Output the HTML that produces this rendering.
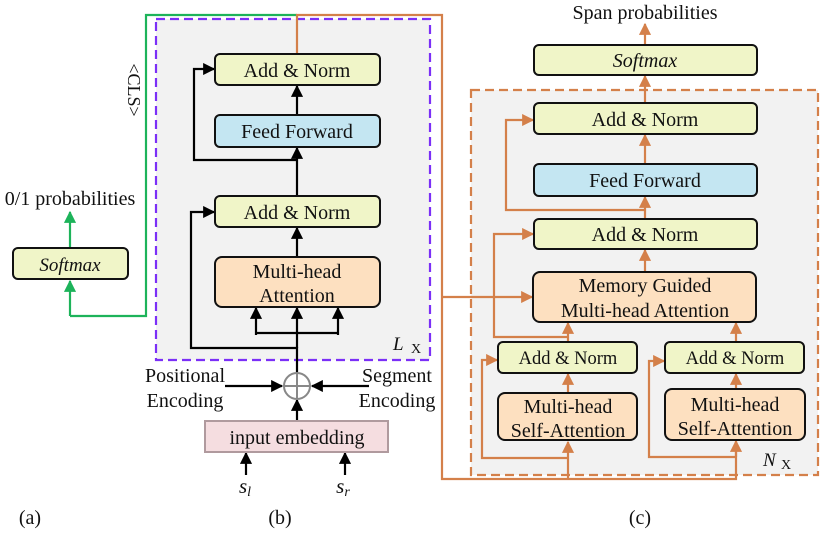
<!DOCTYPE html>
<html><head><meta charset="utf-8"><style>
body{margin:0;background:#fff}
svg{display:block}
text{font-family:"Liberation Serif",serif;fill:#111}
</style></head><body>
<svg width="822" height="533" viewBox="0 0 822 533" xmlns="http://www.w3.org/2000/svg">
<defs>
<marker id="ak" viewBox="0 0 10 10" refX="9" refY="5" markerWidth="5.5" markerHeight="5.5" orient="auto"><path d="M0,0L10,5L0,10z" fill="#000"/></marker>
<marker id="ao" viewBox="0 0 10 10" refX="9" refY="5" markerWidth="5.5" markerHeight="5.5" orient="auto"><path d="M0,0L10,5L0,10z" fill="#d4804a"/></marker>
<marker id="ag" viewBox="0 0 10 10" refX="9" refY="5" markerWidth="5.5" markerHeight="5.5" orient="auto"><path d="M0,0L10,5L0,10z" fill="#1db35a"/></marker>
</defs>
<rect x="156" y="19" width="274" height="341" fill="#f2f2f2" stroke="#7b2ff7" stroke-width="2.2" stroke-dasharray="9,5"/>
<rect x="471" y="90" width="347" height="385" fill="#f2f2f2" stroke="#d4804a" stroke-width="2.2" stroke-dasharray="9,5"/>

<polyline points="70,316 146,316 146,15 297,15" fill="none" stroke="#1db35a" stroke-width="2.2"/>
<line x1="70" y1="316" x2="70" y2="281" stroke="#1db35a" stroke-width="2.2" marker-end="url(#ag)"/>
<line x1="70" y1="248" x2="70" y2="212" stroke="#1db35a" stroke-width="2.2" marker-end="url(#ag)"/>
<rect x="13" y="248" width="115" height="31" rx="5" fill="#f0f5c8" stroke="#111" stroke-width="2"/>
<text x="70" y="271" font-size="19" font-style="italic" text-anchor="middle">Softmax</text>
<text x="70" y="205" font-size="20" text-anchor="middle">0/1 probabilities</text>
<text transform="translate(128,90) rotate(90)" font-size="18" text-anchor="middle">&lt;CLS&gt;</text>

<polyline points="297,54 297,15 442,15 442,479 736,479 736,442" fill="none" stroke="#d4804a" stroke-width="2.2"/>
<line x1="442" y1="297" x2="532" y2="297" stroke="#d4804a" stroke-width="2.2" marker-end="url(#ao)"/>
<line x1="568" y1="479" x2="568" y2="442" stroke="#d4804a" stroke-width="2.2" marker-end="url(#ao)"/>
<polyline points="568,458 482,458 482,360 497,360" fill="none" stroke="#d4804a" stroke-width="2.2" marker-end="url(#ao)"/>
<polyline points="736,457 649,457 649,361 664,361" fill="none" stroke="#d4804a" stroke-width="2.2" marker-end="url(#ao)"/>
<polyline points="736,457 736,441" fill="none" stroke="#d4804a" stroke-width="2.2" marker-end="url(#ao)"/>
<line x1="568" y1="393" x2="568" y2="374" stroke="#d4804a" stroke-width="2.2" marker-end="url(#ao)"/>
<line x1="736" y1="389" x2="736" y2="374" stroke="#d4804a" stroke-width="2.2" marker-end="url(#ao)"/>
<line x1="568" y1="342" x2="568" y2="323" stroke="#d4804a" stroke-width="2.2" marker-end="url(#ao)"/>
<line x1="736" y1="342" x2="736" y2="323" stroke="#d4804a" stroke-width="2.2" marker-end="url(#ao)"/>
<polyline points="568,337 494,337 494,234 533,234" fill="none" stroke="#d4804a" stroke-width="2.2" marker-end="url(#ao)"/>
<line x1="645" y1="272" x2="645" y2="250" stroke="#d4804a" stroke-width="2.2" marker-end="url(#ao)"/>
<line x1="645" y1="219" x2="645" y2="197" stroke="#d4804a" stroke-width="2.2" marker-end="url(#ao)"/>
<polyline points="645,210 506,210 506,120 533,120" fill="none" stroke="#d4804a" stroke-width="2.2" marker-end="url(#ao)"/>
<line x1="645" y1="164" x2="645" y2="135" stroke="#d4804a" stroke-width="2.2" marker-end="url(#ao)"/>
<line x1="645" y1="103" x2="645" y2="76" stroke="#d4804a" stroke-width="2.2" marker-end="url(#ao)"/>
<line x1="645" y1="45" x2="645" y2="24" stroke="#d4804a" stroke-width="2.2" marker-end="url(#ao)"/>

<g stroke="#111" stroke-width="2">
<rect x="534" y="45" width="223" height="30" rx="5" fill="#f0f5c8"/>
<rect x="534" y="103" width="223" height="31" rx="5" fill="#f0f5c8"/>
<rect x="534" y="164" width="223" height="32" rx="5" fill="#c4e6f2"/>
<rect x="534" y="219" width="223" height="30" rx="5" fill="#f0f5c8"/>
<rect x="533" y="272" width="223" height="50" rx="7" fill="#fde0c0"/>
<rect x="498" y="342" width="139" height="31" rx="5" fill="#f0f5c8"/>
<rect x="665" y="342" width="139" height="31" rx="5" fill="#f0f5c8"/>
<rect x="498" y="393" width="139" height="47" rx="7" fill="#fde0c0"/>
<rect x="665" y="389" width="140" height="51" rx="7" fill="#fde0c0"/>
</g>
<g font-size="20" text-anchor="middle">
<text x="645" y="19">Span probabilities</text>
<text x="645" y="67" font-style="italic">Softmax</text>
<text x="645" y="126">Add &amp; Norm</text>
<text x="645" y="187">Feed Forward</text>
<text x="645" y="241">Add &amp; Norm</text>
<text x="645" y="292">Memory Guided</text>
<text x="645" y="317">Multi-head Attention</text>
<text x="568" y="364" font-size="18.5">Add &amp; Norm</text>
<text x="735" y="364" font-size="18.5">Add &amp; Norm</text>
<text x="568" y="413">Multi-head</text>
<text x="568" y="437">Self-Attention</text>
<text x="735" y="411">Multi-head</text>
<text x="735" y="435">Self-Attention</text>
</g>
<text x="763" y="466" font-size="19" font-style="italic">N</text><text x="781" y="469" font-size="14">X</text>

<g stroke="#000" stroke-width="2.2" fill="none">
<line x1="297" y1="115" x2="297" y2="86" marker-end="url(#ak)"/>
<line x1="297" y1="196" x2="297" y2="148" marker-end="url(#ak)"/>
<polyline points="297,160 194,160 194,69 214,69" marker-end="url(#ak)"/>
<line x1="297" y1="257" x2="297" y2="228" marker-end="url(#ak)"/>
<polyline points="297,373 297,348 191,348 191,212 214,212" marker-end="url(#ak)"/>
<line x1="297" y1="348" x2="297" y2="308" marker-end="url(#ak)"/>
<polyline points="256,335 256,308" marker-end="url(#ak)"/>
<polyline points="338,335 338,308" marker-end="url(#ak)"/>
<line x1="256" y1="333" x2="338" y2="333"/>
<line x1="225" y1="386" x2="282" y2="386" marker-end="url(#ak)"/>
<line x1="369" y1="386" x2="312" y2="386" marker-end="url(#ak)"/>
<line x1="297" y1="420" x2="297" y2="400" marker-end="url(#ak)"/>
<line x1="246" y1="475" x2="246" y2="453" marker-end="url(#ak)"/>
<line x1="345" y1="475" x2="345" y2="453" marker-end="url(#ak)"/>
</g>
<circle cx="297" cy="386" r="13" fill="#fff" stroke="#888" stroke-width="2"/>
<line x1="284" y1="386" x2="310" y2="386" stroke="#888" stroke-width="2"/>
<line x1="297" y1="373" x2="297" y2="399" stroke="#888" stroke-width="2"/>
<g stroke="#111" stroke-width="2">
<rect x="215" y="54" width="165" height="31" rx="5" fill="#f0f5c8"/>
<rect x="215" y="115" width="165" height="32" rx="5" fill="#c4e6f2"/>
<rect x="215" y="196" width="165" height="31" rx="5" fill="#f0f5c8"/>
<rect x="215" y="257" width="165" height="50" rx="7" fill="#fde0c0"/>
</g>
<rect x="205" y="421" width="183" height="31" fill="#f5dde0" stroke="#b09a9e" stroke-width="2"/>
<g font-size="20" text-anchor="middle">
<text x="297" y="77">Add &amp; Norm</text>
<text x="297" y="138">Feed Forward</text>
<text x="297" y="219">Add &amp; Norm</text>
<text x="297" y="278">Multi-head</text>
<text x="297" y="302">Attention</text>
<text x="297" y="444">input embedding</text>
<text x="185" y="382">Positional</text>
<text x="185" y="407">Encoding</text>
<text x="397" y="382">Segment</text>
<text x="397" y="407">Encoding</text>
<text x="30" y="524">(a)</text>
<text x="280" y="524">(b)</text>
<text x="640" y="524">(c)</text>
</g>
<text x="245" y="493" font-size="21" font-style="italic" text-anchor="middle">s<tspan font-size="14" dy="3">l</tspan></text>
<text x="343" y="493" font-size="21" font-style="italic" text-anchor="middle">s<tspan font-size="14" dy="3">r</tspan></text>
<text x="393" y="350" font-size="19" font-style="italic">L</text><text x="411" y="353" font-size="14">X</text>
</svg>
</body></html>
